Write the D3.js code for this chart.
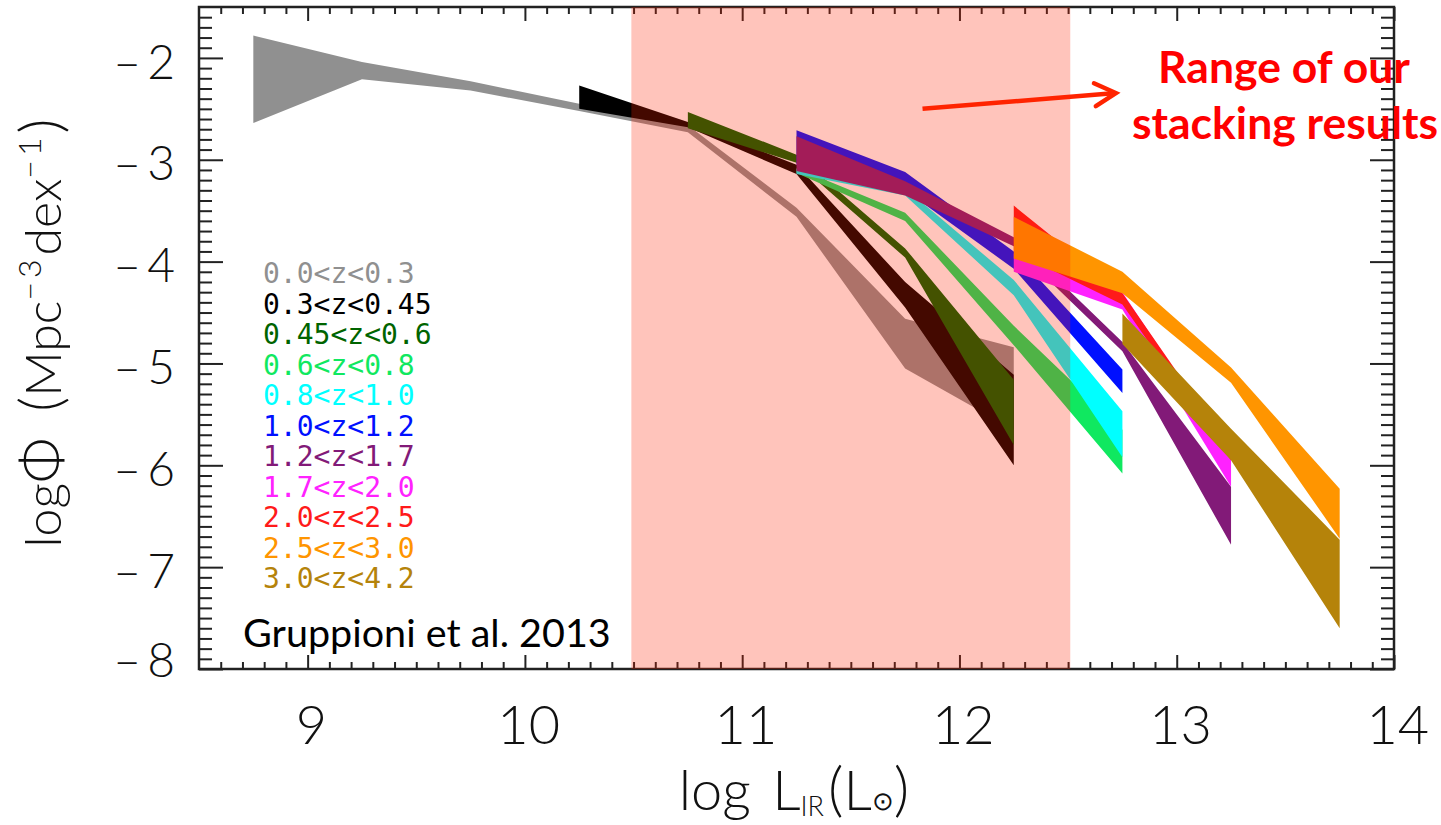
<!DOCTYPE html>
<html>
<head>
<meta charset="utf-8">
<script src="https://cdn.jsdelivr.net/npm/d3@7"></script>
<style>
  body { margin: 0; background: #fff; }
  svg { display: block; }
</style>
</head>
<body>
<svg id="lumFunc" width="1441" height="825"></svg>
<script>
// luminosity bin centres (log L_IR)
const logL = [8.75, 9.25, 9.75, 10.25, 10.75, 11.25, 11.75, 12.25, 12.75, 13.25, 13.75];

const zBins = ["0.0<z<0.3", "0.3<z<0.45", "0.45<z<0.6", "0.6<z<0.8", "0.8<z<1.0", "1.0<z<1.2",
               "1.2<z<1.7", "1.7<z<2.0", "2.0<z<2.5", "2.5<z<3.0", "3.0<z<4.2"];
const zColors = ["#909090", "#000000", "#006400", "#10e860", "#00ffff", "#0010ff",
                 "#821a78", "#ff22ff", "#ff1a1a", "#ff9500", "#b5830a"];

// upper and lower edge of each band (log Phi), null = no data in that bin
const phiUpper = [
  [-1.78, -2.04, -2.23, -2.45, -2.66, -3.47, -4.56, -4.84, null, null, null],
  [null, null, null, -2.27, -2.63, -3.05, -4.20, -5.11, null, null, null],
  [null, null, null, null, -2.53, -2.95, -3.87, -5.16, null, null, null],
  [null, null, null, null, null, -3.08, -3.52, -4.63, -5.65, null, null],
  [null, null, null, null, null, -3.09, -3.28, -4.18, -5.47, null, null],
  [null, null, null, null, null, -2.71, -3.12, -3.90, -5.06, null, null],
  [null, null, null, null, null, -2.77, -3.21, -3.76, -4.79, -6.21, null],
  [null, null, null, null, null, null, null, -3.92, -4.30, -5.90, null],
  [null, null, null, null, null, null, null, -3.45, -4.31, -5.85, null],
  [null, null, null, null, null, null, null, -3.56, -4.10, -5.04, -6.23],
  [null, null, null, null, null, null, null, null, -4.51, -5.64, -6.73]
];
const phiLower = [
  [-2.64, -2.21, -2.32, -2.52, -2.73, -3.56, -5.05, -5.65, null, null, null],
  [null, null, null, -2.50, -2.68, -3.14, -4.45, -6.00, null, null, null],
  [null, null, null, null, -2.69, -3.03, -3.96, -5.80, null, null, null],
  [null, null, null, null, null, -3.13, -3.60, -4.82, -6.08, null, null],
  [null, null, null, null, null, -3.14, -3.35, -4.33, -5.92, null, null],
  [null, null, null, null, null, -3.05, -3.30, -4.07, -5.29, null, null],
  [null, null, null, null, null, -3.11, -3.35, -3.85, -4.88, -6.78, null],
  [null, null, null, null, null, null, null, -4.10, -4.47, -6.21, null],
  [null, null, null, null, null, null, null, -3.90, -4.42, -5.95, null],
  [null, null, null, null, null, null, null, -3.97, -4.31, -5.19, -6.72],
  [null, null, null, null, null, null, null, null, -4.81, -5.95, -7.60]
];

const stackRange = [10.49, 12.51];
const xTicks = [9, 10, 11, 12, 13, 14];
const yTicks = [-2, -3, -4, -5, -6, -7, -8];
const arrowFrom = [11.83, -2.50];
const arrowTo = [12.72, -2.345];

const axisFont = "Lato, Liberation Sans, sans-serif";

const svg = d3.select("#lumFunc");
const x = d3.scaleLinear().domain([8.5, 14]).range([199, 1394]);
const y = d3.scaleLinear().domain([-8, -1.5]).range([669, 7]);

// bands
const band = d3.area()
    .defined(d => d.hi !== null)
    .x(d => x(d.l))
    .y0(d => y(d.lo))
    .y1(d => y(d.hi));

zBins.forEach((label, i) => {
    const pts = logL.map((l, j) => ({ l: l, hi: phiUpper[i][j], lo: phiLower[i][j] }));
    svg.append("path")
        .attr("d", band(pts))
        .attr("fill", zColors[i]);
});

// frame + inward ticks on all four sides
const minorX = d3.range(86, 140).map(d => d / 10).filter(d => !Number.isInteger(d));
const minorY = d3.range(-79, -15).map(d => d / 10).filter(d => !Number.isInteger(d));

function tickGroup(axis, tx, ty) {
    svg.append("g")
        .attr("transform", `translate(${tx},${ty})`)
        .call(axis)
        .call(s => s.select(".domain").remove())
        .call(s => s.selectAll("line").attr("stroke", "#222").attr("stroke-width", 2));
}
tickGroup(d3.axisBottom(x).tickValues(xTicks).tickSize(-14).tickFormat(""), 0, 669);
tickGroup(d3.axisBottom(x).tickValues(minorX).tickSize(-7).tickFormat(""), 0, 669);
tickGroup(d3.axisTop(x).tickValues(xTicks).tickSize(-14).tickFormat(""), 0, 7);
tickGroup(d3.axisTop(x).tickValues(minorX).tickSize(-7).tickFormat(""), 0, 7);
tickGroup(d3.axisLeft(y).tickValues(yTicks).tickSize(-24).tickFormat(""), 199, 0);
tickGroup(d3.axisLeft(y).tickValues(minorY).tickSize(-13).tickFormat(""), 199, 0);
tickGroup(d3.axisRight(y).tickValues(yTicks).tickSize(-24).tickFormat(""), 1394, 0);
tickGroup(d3.axisRight(y).tickValues(minorY).tickSize(-13).tickFormat(""), 1394, 0);

svg.append("rect")
    .attr("x", x(8.5)).attr("y", y(-1.5))
    .attr("width", x(14) - x(8.5)).attr("height", y(-8) - y(-1.5))
    .attr("fill", "none").attr("stroke", "#222").attr("stroke-width", 2.5);

// tick labels
svg.append("g")
    .attr("transform", "translate(0,669)")
    .call(d3.axisBottom(x).tickValues(xTicks).tickSize(0).tickPadding(37).tickFormat(d3.format("d")))
    .call(s => s.select(".domain").remove())
    .attr("font-family", axisFont)
    .attr("font-weight", 300)
    .attr("font-size", 54)
    .call(s => s.selectAll("text").attr("fill", "#111").attr("dx", "0.06em"));

svg.append("g")
    .attr("transform", "translate(199,0)")
    .call(d3.axisLeft(y).tickValues(yTicks).tickSize(0).tickPadding(24)
        .tickFormat(d => "\u2013\u2009" + Math.abs(d)))
    .call(s => s.select(".domain").remove())
    .attr("font-family", axisFont)
    .attr("font-weight", 300)
    .attr("font-size", 48)
    .call(s => s.selectAll("text").attr("fill", "#111")
        .attr("dy", d => d === -8 ? "0.15em" : "0.42em"));

// axis titles
const xt = svg.append("text")
    .attr("x", 794).attr("y", 810)
    .attr("text-anchor", "middle")
    .attr("font-family", axisFont)
    .attr("font-weight", 300)
    .attr("font-size", 56)
    .attr("fill", "#111");
xt.append("tspan").text("log");
xt.append("tspan").attr("dx", 22).text("L");
xt.append("tspan").attr("font-size", 27).attr("dy", 6).text("IR");
xt.append("tspan").attr("dy", -6).attr("font-size", 60).attr("dx", 4).text("(");
xt.append("tspan").text("L");
xt.append("tspan").attr("font-size", 26).attr("font-family", "DejaVu Sans").text("\u2299");
xt.append("tspan").attr("font-size", 60).text(")");

const yt = svg.append("text")
    .attr("transform", "translate(61,333) rotate(-90)")
    .attr("text-anchor", "middle")
    .attr("font-family", axisFont)
    .attr("font-weight", 300)
    .attr("font-size", 50)
    .attr("fill", "#111");
yt.append("tspan").text("log");
yt.append("tspan").attr("font-size", 56).text("\u03A6");
yt.append("tspan").attr("font-size", 58).attr("dx", 26).text("(");
yt.append("tspan").text("Mpc");
yt.append("tspan").attr("font-size", 32).attr("dy", -20).attr("letter-spacing", 4).text("\u2212" + "3");
yt.append("tspan").attr("dy", 20).text("dex");
yt.append("tspan").attr("font-size", 32).attr("dy", -20).attr("letter-spacing", 4).text("\u2212" + "1");
yt.append("tspan").attr("font-size", 58).attr("dy", 20).text(")");

// shaded stacking range, drawn over everything in the plot
svg.append("rect")
    .attr("x", x(stackRange[0])).attr("y", y(-1.5))
    .attr("width", x(stackRange[1]) - x(stackRange[0]))
    .attr("height", y(-8) - y(-1.5))
    .attr("fill", "rgb(255,35,0)")
    .attr("fill-opacity", 0.267);

// legend
svg.append("g").selectAll("text")
    .data(zBins)
    .join("text")
    .attr("x", 263)
    .attr("y", (d, i) => 283 + i * 30.5)
    .attr("font-family", "DejaVu Sans Mono, monospace")
    .attr("font-size", 28)
    .attr("fill", (d, i) => zColors[i])
    .text(d => d);

svg.append("text")
    .attr("x", 243).attr("y", 647)
    .attr("font-family", "Lato, Open Sans, sans-serif")
    .attr("font-size", 39.5)
    .attr("fill", "#000")
    .text("Gruppioni et al. 2013");

// annotation
const note = svg.append("text")
    .attr("text-anchor", "middle")
    .attr("font-family", "Lato, Open Sans, sans-serif")
    .attr("font-weight", "bold")
    .attr("font-size", 44.5)
    .attr("fill", "#ff0000");
note.append("tspan").attr("x", 1284).attr("y", 83).text("Range of our");
note.append("tspan").attr("x", 1285).attr("y", 139).text("stacking results");

const ax0 = x(arrowFrom[0]), ay0 = y(arrowFrom[1]);
const ax1 = x(arrowTo[0]), ay1 = y(arrowTo[1]);
const ang = Math.atan2(ay1 - ay0, ax1 - ax0);
const head = 24;
svg.append("line")
    .attr("x1", ax0).attr("y1", ay0)
    .attr("x2", ax1 - 3 * Math.cos(ang)).attr("y2", ay1 - 3 * Math.sin(ang))
    .attr("stroke", "#ff2400").attr("stroke-width", 4.5);
svg.append("polyline")
    .attr("points", [
        [ax1 - head * Math.cos(ang - 0.5), ay1 - head * Math.sin(ang - 0.5)],
        [ax1, ay1],
        [ax1 - head * Math.cos(ang + 0.5), ay1 - head * Math.sin(ang + 0.5)]
    ].map(p => p.join(",")).join(" "))
    .attr("fill", "none")
    .attr("stroke", "#ff2400").attr("stroke-width", 4.5)
    .attr("stroke-linecap", "round").attr("stroke-linejoin", "miter");
</script>
</body>
</html>
